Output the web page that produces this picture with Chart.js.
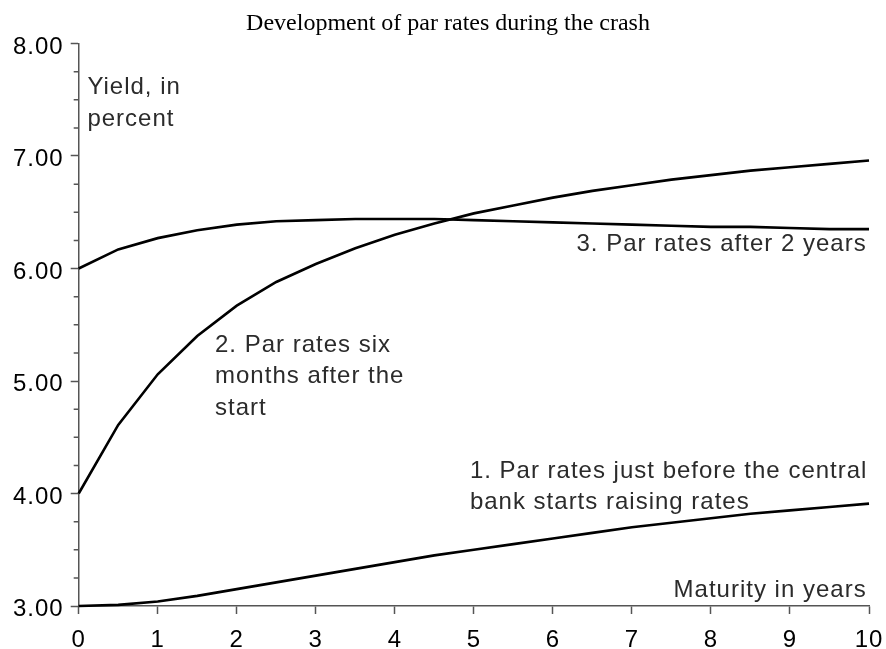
<!DOCTYPE html>
<html><head><meta charset="utf-8">
<script src="https://cdn.jsdelivr.net/npm/chart.js@4.4.1/dist/chart.umd.min.js"></script>
<style>html,body{margin:0;padding:0;background:#fff}canvas{display:block}</style>
</head><body>
<canvas id="c" width="886" height="649"></canvas>
<script>
// ---- data ----
const titleText = 'Development of par rates during the crash';
const maturities = [0,0.5,1,1.5,2,2.5,3,3.5,4,4.5,5,5.5,6,6.5,7,7.5,8,8.5,9,9.5,10];
const parRatesBefore    = [3.00,3.01,3.04,3.09,3.15,3.21,3.27,3.33,3.39,3.45,3.50,3.55,3.60,3.65,3.70,3.74,3.78,3.82,3.85,3.88,3.91];
const parRatesSixMonths = [4.00,4.61,5.06,5.40,5.67,5.88,6.04,6.18,6.30,6.40,6.49,6.56,6.63,6.69,6.74,6.79,6.83,6.87,6.90,6.93,6.96];
const parRatesTwoYears  = [6.00,6.17,6.27,6.34,6.39,6.42,6.43,6.44,6.44,6.44,6.43,6.42,6.41,6.40,6.39,6.38,6.37,6.37,6.36,6.35,6.35];
const xTickLabels = ['0','1','2','3','4','5','6','7','8','9','10'];
const yTickLabels = ['3.00','4.00','5.00','6.00','7.00','8.00'];
const yMinorStep = 0.25;
const annotations = [
  {lines:['Yield, in','percent'], x:0.11, y:7.547, align:'left'},
  {lines:['2. Par rates six','months after the','start'], x:1.725, y:5.26, align:'left'},
  {lines:['1. Par rates just before the central','bank starts raising rates'], x:4.95, y:4.14, align:'left'},
  {lines:['3. Par rates after 2 years'], x:9.97, y:6.156, align:'right'},
  {lines:['Maturity in years'], x:9.97, y:3.083, align:'right'}
];

const SANS = '"Liberation Sans", Arial, Helvetica, sans-serif';
const SERIF = '"Liberation Serif", "Times New Roman", serif';
const AXIS = '#555';
const SPACING = '1px';

const toXY = (ys) => maturities.map((m, i) => ({x: m, y: ys[i]}));

const spacingPlugin = {
  id: 'spacing',
  beforeUpdate(c) { c.ctx.letterSpacing = SPACING; },
  beforeDraw(c) { c.ctx.letterSpacing = SPACING; }
};

const decorPlugin = {
  id: 'decor',
  afterDraw(c) {
    const ctx = c.ctx, xs = c.scales.x, ys = c.scales.y, ca = c.chartArea;
    ctx.save();
    // minor ticks on the y axis
    ctx.strokeStyle = AXIS; ctx.lineWidth = 1.5;
    ctx.beginPath();
    for (let v = ys.min; v <= ys.max + 1e-9; v += yMinorStep) {
      if (Math.abs(v - Math.round(v)) < 1e-9) continue;
      const py = ys.getPixelForValue(v);
      ctx.moveTo(ca.left - 5, py); ctx.lineTo(ca.left, py);
    }
    ctx.stroke();
    // annotations
    ctx.letterSpacing = SPACING;
    ctx.fillStyle = '#2b2b2b';
    ctx.font = '24px ' + SANS;
    ctx.textBaseline = 'alphabetic';
    annotations.forEach(a => {
      const px = xs.getPixelForValue(a.x), py = ys.getPixelForValue(a.y);
      ctx.textAlign = a.align;
      a.lines.forEach((t, i) => ctx.fillText(t, px, py + i * 31.6));
    });
    // title
    ctx.letterSpacing = '0px';
    ctx.fillStyle = '#000';
    ctx.font = '24px ' + SERIF;
    ctx.textAlign = 'center';
    ctx.fillText(titleText, 448, 30);
    ctx.restore();
  }
};

const lineStyle = {borderColor:'#000', borderWidth:2.6, pointRadius:0, tension:0, fill:false, clip:6};

new Chart(document.getElementById('c'), {
  type: 'line',
  data: {
    datasets: [
      Object.assign({label:'1. Par rates just before the central bank starts raising rates', data: toXY(parRatesBefore)}, lineStyle),
      Object.assign({label:'2. Par rates six months after the start', data: toXY(parRatesSixMonths)}, lineStyle),
      Object.assign({label:'3. Par rates after 2 years', data: toXY(parRatesTwoYears)}, lineStyle)
    ]
  },
  options: {
    responsive: false,
    animation: false,
    devicePixelRatio: 1,
    layout: {padding: {top: 43.5, right: 17, left: 0, bottom: 0}},
    plugins: {legend: {display:false}, title: {display:false}, tooltip: {enabled:false}},
    scales: {
      x: {
        type: 'linear', min: 0, max: 10,
        afterFit(s) { s.height = 43; s.paddingLeft = 0; s.paddingRight = 0; },
        afterBuildTicks(s) { s.ticks = xTickLabels.map(l => ({value: Number(l)})); },
        ticks: {stepSize: 1, color:'#000', font:{family: SANS, size: 24}, padding: 12, maxRotation: 0, autoSkip: false,
                callback: (v) => xTickLabels[xTickLabels.indexOf(String(v))] ?? ''},
        grid: {drawOnChartArea:false, drawTicks:true, tickLength: 8, tickColor: AXIS, tickWidth: 1.5},
        border: {color: AXIS, width: 1.5}
      },
      y: {
        type: 'linear', min: 3, max: 8,
        afterFit(s) { s.width = 78.7; s.paddingTop = 0; s.paddingBottom = 0; },
        afterBuildTicks(s) { s.ticks = yTickLabels.map(l => ({value: Number(l)})); },
        ticks: {stepSize: 1, color:'#000', font:{family: SANS, size: 24}, padding: 7, labelOffset: 3.5,
                callback: (v) => yTickLabels.find(l => Number(l) === v) ?? ''},
        grid: {drawOnChartArea:false, drawTicks:true, tickLength: 8, tickColor: AXIS, tickWidth: 1.5},
        border: {color: AXIS, width: 1.5}
      }
    }
  },
  plugins: [spacingPlugin, decorPlugin]
});
</script>
</body></html>
